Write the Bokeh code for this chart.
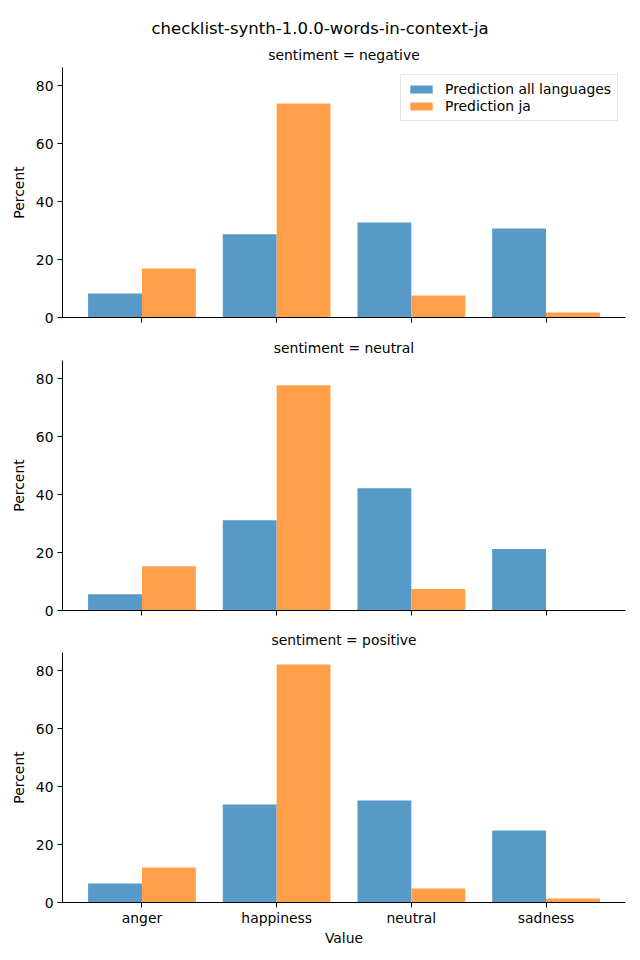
from bokeh.plotting import figure
from bokeh.models import (ColumnDataSource, Range1d, FixedTicker, Title, Legend,
                          LegendItem, CustomLabelingPolicy)
from bokeh.transform import dodge
from bokeh.layouts import column
from bokeh.embed import file_html
from bokeh.resources import INLINE

FONT = "DejaVu Sans"
SUPTITLE = "checklist-synth-1.0.0-words-in-context-ja"
categories = ["anger", "happiness", "neutral", "sadness"]
sentiments = ["negative", "neutral", "positive"]
series_names = ["Prediction all languages", "Prediction ja"]

all_negative = [8.3, 28.7, 32.8, 30.7]
ja_negative = [16.9, 73.9, 7.6, 1.7]
all_neutral = [5.6, 31.2, 42.2, 21.2]
ja_neutral = [15.3, 77.8, 7.4, 0.0]
all_positive = [6.6, 33.8, 35.2, 24.9]
ja_positive = [12.1, 82.2, 4.8, 1.4]

y_ticks = [0, 20, 40, 60, 80]

BLUE = "#5799c7"
ORANGE = "#ff9f4a"

panels = [
    (sentiments[0], all_negative, ja_negative),
    (sentiments[1], all_neutral, ja_neutral),
    (sentiments[2], all_positive, ja_positive),
]

ymax = max(max(all_negative + ja_negative), max(all_neutral + ja_neutral),
           max(all_positive + ja_positive)) * 1.05

hide_labels = CustomLabelingPolicy(code="""
for (const i of [...indices]) { indices.unset(i) }
return indices
""")


def style_title(t, size, standoff):
    t.text_font = FONT
    t.text_font_size = size
    t.text_font_style = "normal"
    t.text_color = "black"
    t.standoff = standoff


borders = [(67, 15), (28, 14), (28, 47)]

figs = []
for i, (sent, a_vals, j_vals) in enumerate(panels):
    first = i == 0
    last = i == len(panels) - 1
    top_b, bot_b = borders[i]
    p = figure(width=632, height=top_b + 250 + bot_b,
               x_range=Range1d(-0.59, 3.59), y_range=Range1d(0, ymax),
               output_backend="svg", toolbar_location=None,
               min_border_left=62, min_border_right=7,
               min_border_top=top_b, min_border_bottom=bot_b)
    p.outline_line_color = None
    p.xgrid.visible = False
    p.ygrid.visible = False

    subtitle = f"sentiment = {sent}"
    if first:
        p.title.text = SUPTITLE
        p.title.align = "left"
        p.title.offset = 89
        style_title(p.title, "16.5px", 4)
        sub = Title(text=subtitle, align="center")
        style_title(sub, "13.9px", 10)
        p.add_layout(sub, "above")
    else:
        p.title.text = subtitle
        p.title.align = "center"
        style_title(p.title, "13.9px", 10)

    src = ColumnDataSource(dict(x=list(range(len(categories))), cat=categories,
                                a=a_vals, j=j_vals))
    r1 = p.vbar(x=dodge("x", -0.2, range=p.x_range), top="a", width=0.4, source=src,
                fill_color=BLUE, line_color=None)
    r2 = p.vbar(x=dodge("x", 0.2, range=p.x_range), top="j", width=0.4, source=src,
                fill_color=ORANGE, line_color=None)

    xa = p.xaxis[0]
    xa.ticker = FixedTicker(ticks=list(range(len(categories))))
    xa.minor_tick_line_color = None
    xa.major_tick_in = 0
    xa.major_tick_out = 5
    xa.axis_line_color = "black"
    xa.major_tick_line_color = "black"
    xa.major_label_overrides = {k: c for k, c in enumerate(categories)}
    xa.major_label_text_font = FONT
    xa.major_label_text_color = "black"
    if last:
        xa.major_label_text_font_size = "13.9px"
        xa.major_label_standoff = 2
        xa.axis_label = "Value"
        xa.axis_label_text_font = FONT
        xa.axis_label_text_font_size = "13.9px"
        xa.axis_label_text_font_style = "normal"
        xa.axis_label_text_color = "black"
        xa.axis_label_standoff = 1
    else:
        xa.major_label_text_font_size = "1px"
        xa.major_label_standoff = 0
        xa.major_label_policy = hide_labels

    ya = p.yaxis[0]
    ya.ticker = FixedTicker(ticks=y_ticks)
    ya.minor_tick_line_color = None
    ya.major_tick_in = 0
    ya.major_tick_out = 5
    ya.axis_line_color = "black"
    ya.major_tick_line_color = "black"
    ya.major_label_text_font = FONT
    ya.major_label_text_font_size = "13.9px"
    ya.major_label_text_color = "black"
    ya.major_label_standoff = 4
    ya.axis_label = "Percent"
    ya.axis_label_text_font = FONT
    ya.axis_label_text_font_size = "13.9px"
    ya.axis_label_text_font_style = "normal"
    ya.axis_label_text_color = "black"
    ya.axis_label_standoff = 6

    if first:
        legend = Legend(items=[LegendItem(label=series_names[0], renderers=[r1]),
                               LegendItem(label=series_names[1], renderers=[r2])],
                        location="top_right")
        legend.margin = 7
        legend.padding = 6
        legend.spacing = 1
        legend.glyph_width = 28
        legend.glyph_height = 10
        legend.label_height = 14
        legend.label_standoff = 10
        legend.label_text_font = FONT
        legend.label_text_font_size = "13.9px"
        legend.label_text_color = "black"
        legend.border_line_color = "#cccccc"
        legend.border_line_width = 1
        legend.background_fill_alpha = 0.8
        p.add_layout(legend, "center")
    figs.append(p)

layout = column(*figs, spacing=0)
open("out.html", "w").write(file_html(layout, INLINE))
